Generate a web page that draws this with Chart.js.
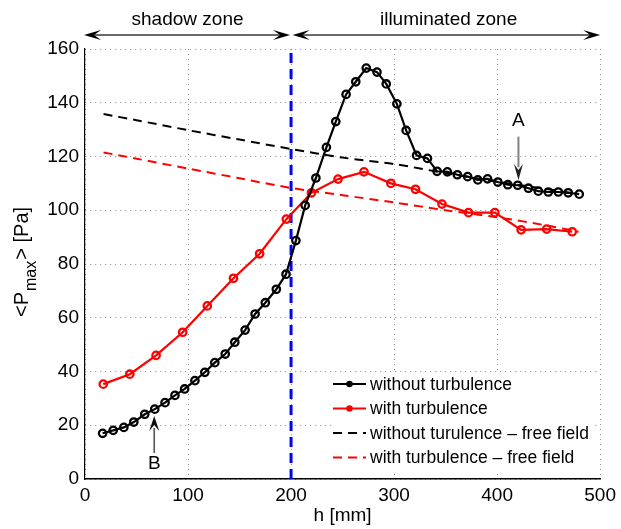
<!DOCTYPE html>
<html><head><meta charset="utf-8">
<script src="https://cdn.jsdelivr.net/npm/chart.js@4/dist/chart.umd.min.js"></script>
<style>html,body{margin:0;padding:0;background:#fff;}canvas{display:block;}</style>
</head><body>
<canvas id="c" width="621" height="529"></canvas>
<script>
// ---- data ----
const noTurbX = [17.1,27.4,37.7,47.4,58.0,67.7,77.7,87.3,96.7,106.7,116.3,126.0,136.1,145.4,155.4,165.1,175.0,185.7,195.1,204.7,213.7,224.1,234.3,243.4,253.4,262.8,273.0,283.4,292.4,302.7,311.7,321.8,332.4,341.7,351.7,361.4,371.4,381.3,390.7,400.7,410.4,420.0,430.4,440.0,449.7,459.4,469.0,479.7];
const noTurbY = [17.0,18.1,19.2,21.2,24.1,26.0,28.4,31.1,33.5,36.6,39.7,43.3,46.5,50.9,55.4,61.4,65.6,70.6,76.2,88.7,101.8,112.0,123.4,133.0,143.1,147.8,152.9,151.4,147.0,139.6,129.7,120.4,119.3,114.5,114.3,113.2,112.5,111.3,111.7,110.5,109.5,109.3,108.2,107.1,106.8,106.8,106.5,106.0];
const turbX = [17.7,43.5,69.0,94.8,118.7,144.1,169.5,195.4,219.8,245.6,270.8,296.9,320.8,346.5,372.3,397.8,423.3,448.1,472.9];
const turbY = [35.3,39.0,46.0,54.6,64.4,74.7,83.8,96.7,106.5,111.6,114.3,110.0,107.8,102.3,99.1,99.1,92.7,93.0,92.0];
const freeX = [18,50,100,150,200,250,300,350,400,450,479];
const freeNoTurbY = [135.8,133.5,129.8,126.3,122.8,119.6,117.2,113.8,110.6,107.8,106.0];
const freeTurbY = [121.5,119.2,115.5,111.9,108.3,105.6,102.9,100.0,97.4,94.2,92.0];
const boundaryX = [200,200];
const boundaryY = [0,160];
const seriesLabels = ['without turbulence','with turbulence','without turulence \u2013 free field','with turbulence \u2013 free field'];
const zoneLabels = ['shadow zone','illuminated zone'];
const axisLabelX = 'h [mm]';
const axisLabelY = ['<P', 'max', '> [Pa]'];
const markLabels = ['A','B'];

const FONT = '"Liberation Sans", Arial, Helvetica, sans-serif';
const pts = (xs, ys) => xs.map((x, i) => ({x, y: ys[i]}));

function head(ctx, x, y, ang, len, hw, notch) {
  ctx.save(); ctx.translate(x, y); ctx.rotate(ang);
  ctx.beginPath(); ctx.moveTo(0, 0); ctx.lineTo(-len, -hw); ctx.lineTo(-len + notch, 0); ctx.lineTo(-len, hw); ctx.closePath();
  ctx.fill(); ctx.restore();
}

const decor = {
  id: 'decor',
  afterDraw(chart) {
    const ctx = chart.ctx, xs = chart.scales.x, ys = chart.scales.y;
    ctx.save();
    // zone arrows
    const ya = 35;
    const x0 = xs.getPixelForValue(0) - 1, x2 = xs.getPixelForValue(200), x5 = xs.getPixelForValue(500);
    ctx.strokeStyle = '#3a3a3a'; ctx.fillStyle = '#000'; ctx.lineWidth = 1.6;
    ctx.beginPath(); ctx.moveTo(x0 + 8, ya); ctx.lineTo(x2 - 9, ya); ctx.stroke();
    head(ctx, x0, ya, Math.PI, 17, 5, 7); head(ctx, x2 - 1, ya, 0, 17, 5, 7);
    ctx.beginPath(); ctx.moveTo(x2 + 9, ya); ctx.lineTo(x5 - 8, ya); ctx.stroke();
    head(ctx, x2 + 1.5, ya, Math.PI, 17, 5, 7); head(ctx, x5, ya, 0, 17, 5, 7);
    ctx.font = '19px ' + FONT; ctx.textAlign = 'center'; ctx.textBaseline = 'middle'; ctx.fillStyle = '#000';
    ctx.fillText(zoneLabels[0], (x0 + x2) / 2, 20);
    ctx.fillText(zoneLabels[1], (x2 + x5) / 2 + 3, 20);

    // annotation A
    const ax = xs.getPixelForValue(420.7);
    ctx.fillText(markLabels[0], ax, ys.getPixelForValue(133.4));
    ctx.strokeStyle = '#808080'; ctx.lineWidth = 2;
    ctx.beginPath(); ctx.moveTo(ax, ys.getPixelForValue(127.4)); ctx.lineTo(ax, ys.getPixelForValue(116)); ctx.stroke();
    ctx.fillStyle = '#222'; head(ctx, ax, ys.getPixelForValue(111.3), Math.PI / 2, 16, 4.5, 6);
    // annotation B
    const bx = xs.getPixelForValue(67.2);
    ctx.fillStyle = '#000';
    ctx.fillText(markLabels[1], bx, ys.getPixelForValue(5.6));
    ctx.strokeStyle = '#555'; ctx.lineWidth = 1.6;
    ctx.beginPath(); ctx.moveTo(bx, ys.getPixelForValue(9.7)); ctx.lineTo(bx, ys.getPixelForValue(19)); ctx.stroke();
    ctx.fillStyle = '#111'; head(ctx, bx, ys.getPixelForValue(23.4), -Math.PI / 2, 15, 5, 6);

    // y axis title (rotated, with subscript)
    ctx.save();
    ctx.translate(28, 317); ctx.rotate(-Math.PI / 2);
    ctx.textAlign = 'left'; ctx.textBaseline = 'alphabetic'; ctx.fillStyle = '#000';
    ctx.font = '20px ' + FONT;
    let w = 0;
    ctx.fillText(axisLabelY[0], w, 0); w += ctx.measureText(axisLabelY[0]).width;
    ctx.font = '16px ' + FONT;
    ctx.fillText(axisLabelY[1], w + 1, 8); w += ctx.measureText(axisLabelY[1]).width + 2;
    ctx.font = '20px ' + FONT;
    ctx.fillText(axisLabelY[2], w, 0);
    ctx.restore();

    // legend
    const lx = 332, ly = 373, lw = 263, lh = 97;
    ctx.fillStyle = '#fff'; ctx.fillRect(lx, ly, lw, lh);
    const rows = [384, 408.5, 433, 457.5];
    const sets = chart.data.datasets;
    ctx.font = '17.5px ' + FONT; ctx.textAlign = 'left'; ctx.textBaseline = 'middle';
    for (let i = 0; i < 4; i++) {
      const ds = sets[i], y = rows[i];
      ctx.strokeStyle = ds.borderColor; ctx.lineWidth = 2;
      ctx.setLineDash(ds.borderDash || []);
      ctx.beginPath(); ctx.moveTo(333, y); ctx.lineTo(366, y); ctx.stroke();
      ctx.setLineDash([]);
      if (ds.pointRadius > 0) {
        ctx.lineWidth = 1.5; ctx.fillStyle = ds.borderColor;
        ctx.beginPath(); ctx.arc(349.5, y, 2.5, 0, Math.PI * 2); ctx.stroke(); ctx.fill();
      }
      ctx.fillStyle = '#000';
      ctx.fillText(seriesLabels[i], 370, y + 1);
    }
    ctx.restore();
  }
};

new Chart(document.getElementById('c'), {
  type: 'line',
  data: {
    datasets: [
      {label: seriesLabels[0], data: pts(noTurbX, noTurbY), borderColor: '#000', borderWidth: 2.2, pointRadius: 3.7, pointBorderWidth: 2.3, pointBackgroundColor: 'rgba(0,0,0,0)', pointBorderColor: '#000', tension: 0, order: 0},
      {label: seriesLabels[1], data: pts(turbX, turbY), borderColor: '#ff0000', borderWidth: 2.2, pointRadius: 3.7, pointBorderWidth: 2.3, pointBackgroundColor: 'rgba(0,0,0,0)', pointBorderColor: '#ff0000', tension: 0, order: 1},
      {label: seriesLabels[2], data: pts(freeX, freeNoTurbY), borderColor: '#000', borderWidth: 2, borderDash: [9, 6], pointRadius: 0, tension: 0.3, order: 2},
      {label: seriesLabels[3], data: pts(freeX, freeTurbY), borderColor: '#ff0000', borderWidth: 2, borderDash: [9, 6], pointRadius: 0, tension: 0.3, order: 3},
      {label: 'boundary', data: pts(boundaryX, boundaryY), borderColor: '#0000ff', borderWidth: 3, borderDash: [10, 6], pointRadius: 0, order: 4}
    ]
  },
  options: {
    responsive: false, animation: false, devicePixelRatio: 1,
    layout: {padding: {left: 0, top: 49, right: 19, bottom: 0}},
    plugins: {legend: {display: false}, tooltip: {enabled: false}},
    scales: {
      x: {
        type: 'linear', min: 0, max: 500,
        ticks: {stepSize: 100, color: '#000', font: {family: FONT, size: 19}, padding: 5, maxRotation: 0},
        grid: {color: '#8c8c8c', lineWidth: 1, drawTicks: false},
        border: {display: true, color: '#000', width: 1.5, dash: [1, 4]},
        title: {display: true, text: axisLabelX, color: '#000', font: {family: FONT, size: 19}, padding: {top: 0, bottom: 2}},
        afterFit(s) { s.height = 50; }
      },
      y: {
        type: 'linear', min: 0, max: 160,
        ticks: {stepSize: 20, color: '#000', font: {family: FONT, size: 19}, padding: 6},
        grid: {color: '#8c8c8c', lineWidth: 1, drawTicks: false},
        border: {display: true, color: '#000', width: 1.2, dash: [1, 4]},
        afterFit(s) { s.width = 85; }
      }
    }
  },
  plugins: [decor]
});
</script>
</body></html>
